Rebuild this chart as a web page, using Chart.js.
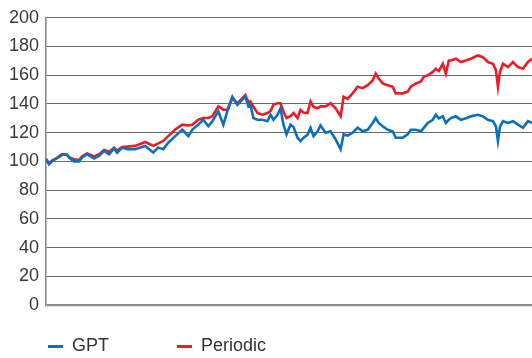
<!DOCTYPE html>
<html>
<head>
<meta charset="utf-8">
<script src="https://cdn.jsdelivr.net/npm/chart.js@4/dist/chart.umd.min.js"></script>
<style>
  html, body { margin: 0; padding: 0; background: #ffffff; }
  #wrap { position: relative; width: 532px; height: 358px; }
  canvas { position: absolute; left: 0; top: 0; }
  .lg-line { position: absolute; height: 3px; width: 15px; }
  .lg-text { position: absolute; font-family: "Liberation Sans", Arial, sans-serif; font-size: 18px; line-height: 20px; color: #333333; white-space: nowrap; }
</style>
</head>
<body>
<div id="wrap">
  <canvas id="c" width="532" height="358"></canvas>
  <div class="lg-line" style="left:48px; top:345px; background:#0a70bd;"></div>
  <div class="lg-text" style="left:72px; top:335px;">GPT</div>
  <div class="lg-line" style="left:177px; top:345px; background:#ea1d25;"></div>
  <div class="lg-text" style="left:201px; top:335px;">Periodic</div>
</div>
<script>
const seriesNames = ["GPT", "Periodic"];
const yTicks = [0, 20, 40, 60, 80, 100, 120, 140, 160, 180, 200];
const days = [0,3,6,10,13,16,21,23,28,33,36,41,48,53,58,63,68,71,76,81,
  89,99,107,112,117,122,129,136,142,146,152,157,162,166,172,177,181,186,191,196,
  199,202,204,207,211,216,221,224,227,231,234,237,240,244,247,251,254,257,261,264,
  267,271,274,279,284,289,294,297,301,306,311,316,321,326,329,332,336,341,346,349,
  356,361,364,369,374,377,381,386,389,392,396,399,402,404,409,414,419,424,431,436,
  441,446,449,451,453,456,461,466,471,476,481,485];
const gpt = [101.6,98,100,102,103,104.6,104.6,102.7,100,100,102.7,105,102,104,107.3,105,109,106,109.6,108.5,
  108.5,110.8,106.2,109.6,108.5,113,117.6,122.2,117.6,122.2,125.6,129,124.5,128,134.8,125.6,135,145,139.4,143,
  145,138.3,139.4,130.2,129,129,128,132.5,129,132.5,137,125.6,118.8,125.6,124,116.5,114.2,116.5,118.5,123.4,
  117.6,121,125,120,121,115.3,108.5,118.8,118,120,123.4,121,122,126.8,130.2,126.8,124.5,122,121,116.5,
  116.5,118.8,122,122,121,123.4,126.8,129,132.5,130,131.4,126.8,129,130.2,131.4,129,130,131.4,132.5,131.4,
  129,128,124.5,114.2,124,128,126.8,128,125.6,123.4,128,126.8];
const periodic = [101.6,98.5,100.5,102,103.5,105,104.6,103,101.5,101,103.5,105.5,103.5,105,108,106.7,109.5,107.5,110,110.3,
  110.8,113.5,110.8,112.6,114.2,117.6,122.2,125.6,125,125.5,129,130.2,130.2,131.4,138.3,136,136,144,140.5,144,
  146.2,141,141.7,138,133.7,132.5,133.7,135,139.4,140.5,140.5,134.8,130.2,131.5,133.7,130.2,136,134,133.7,141.7,
  138,137,138.3,138.3,140.5,137,131.4,145,143.5,147.4,152,151,153.1,156.4,161.2,157.7,154.3,153.1,152,147.4,
  147.4,148.6,152,154.3,155.5,158.9,160,162.3,164.6,163,168,161.2,170.3,170.3,171.5,169.2,170.3,171.5,173.8,172.6,
  169.2,168,163.5,152,162.3,168,165.7,169.2,165.7,164.6,169.2,171.5];

const toPts = (vals) => days.map((d, i) => ({ x: d, y: vals[i] }));

new Chart(document.getElementById('c'), {
  type: 'line',
  data: {
    datasets: [
      { label: seriesNames[0], data: toPts(gpt), borderColor: '#0a70bd', borderWidth: 2.6, pointRadius: 0, tension: 0, fill: false },
      { label: seriesNames[1], data: toPts(periodic), borderColor: '#ea1d25', borderWidth: 2.6, pointRadius: 0, tension: 0, fill: false }
    ]
  },
  options: {
    responsive: false,
    animation: false,
    events: [],
    layout: { padding: { top: 14, right: 0, bottom: 53, left: 0 } },
    plugins: { legend: { display: false }, tooltip: { enabled: false } },
    scales: {
      x: {
        type: 'linear', min: days[0], max: days[days.length - 1],
        ticks: { display: false },
        grid: { display: false },
        border: { display: false },
        afterFit: (s) => { s.height = 0; }
      },
      y: {
        min: yTicks[0], max: yTicks[yTicks.length - 1],
        afterBuildTicks: (s) => { s.ticks = yTicks.map(v => ({ value: v })); },
        ticks: { color: '#3a3a3a', font: { family: 'Liberation Sans', size: 18 }, padding: 7 },
        grid: {
          drawTicks: false,
          color: (ctx) => ctx.tick && ctx.tick.value === 0 ? '#8c8c8c' : '#6a6a6a',
          lineWidth: (ctx) => ctx.tick && ctx.tick.value === 0 ? 2.2 : 1.1
        },
        border: { color: '#8c8c8c', width: 1.6 },
        afterFit: (s) => { s.width = 46; }
      }
    }
  }
});
</script>
</body>
</html>
